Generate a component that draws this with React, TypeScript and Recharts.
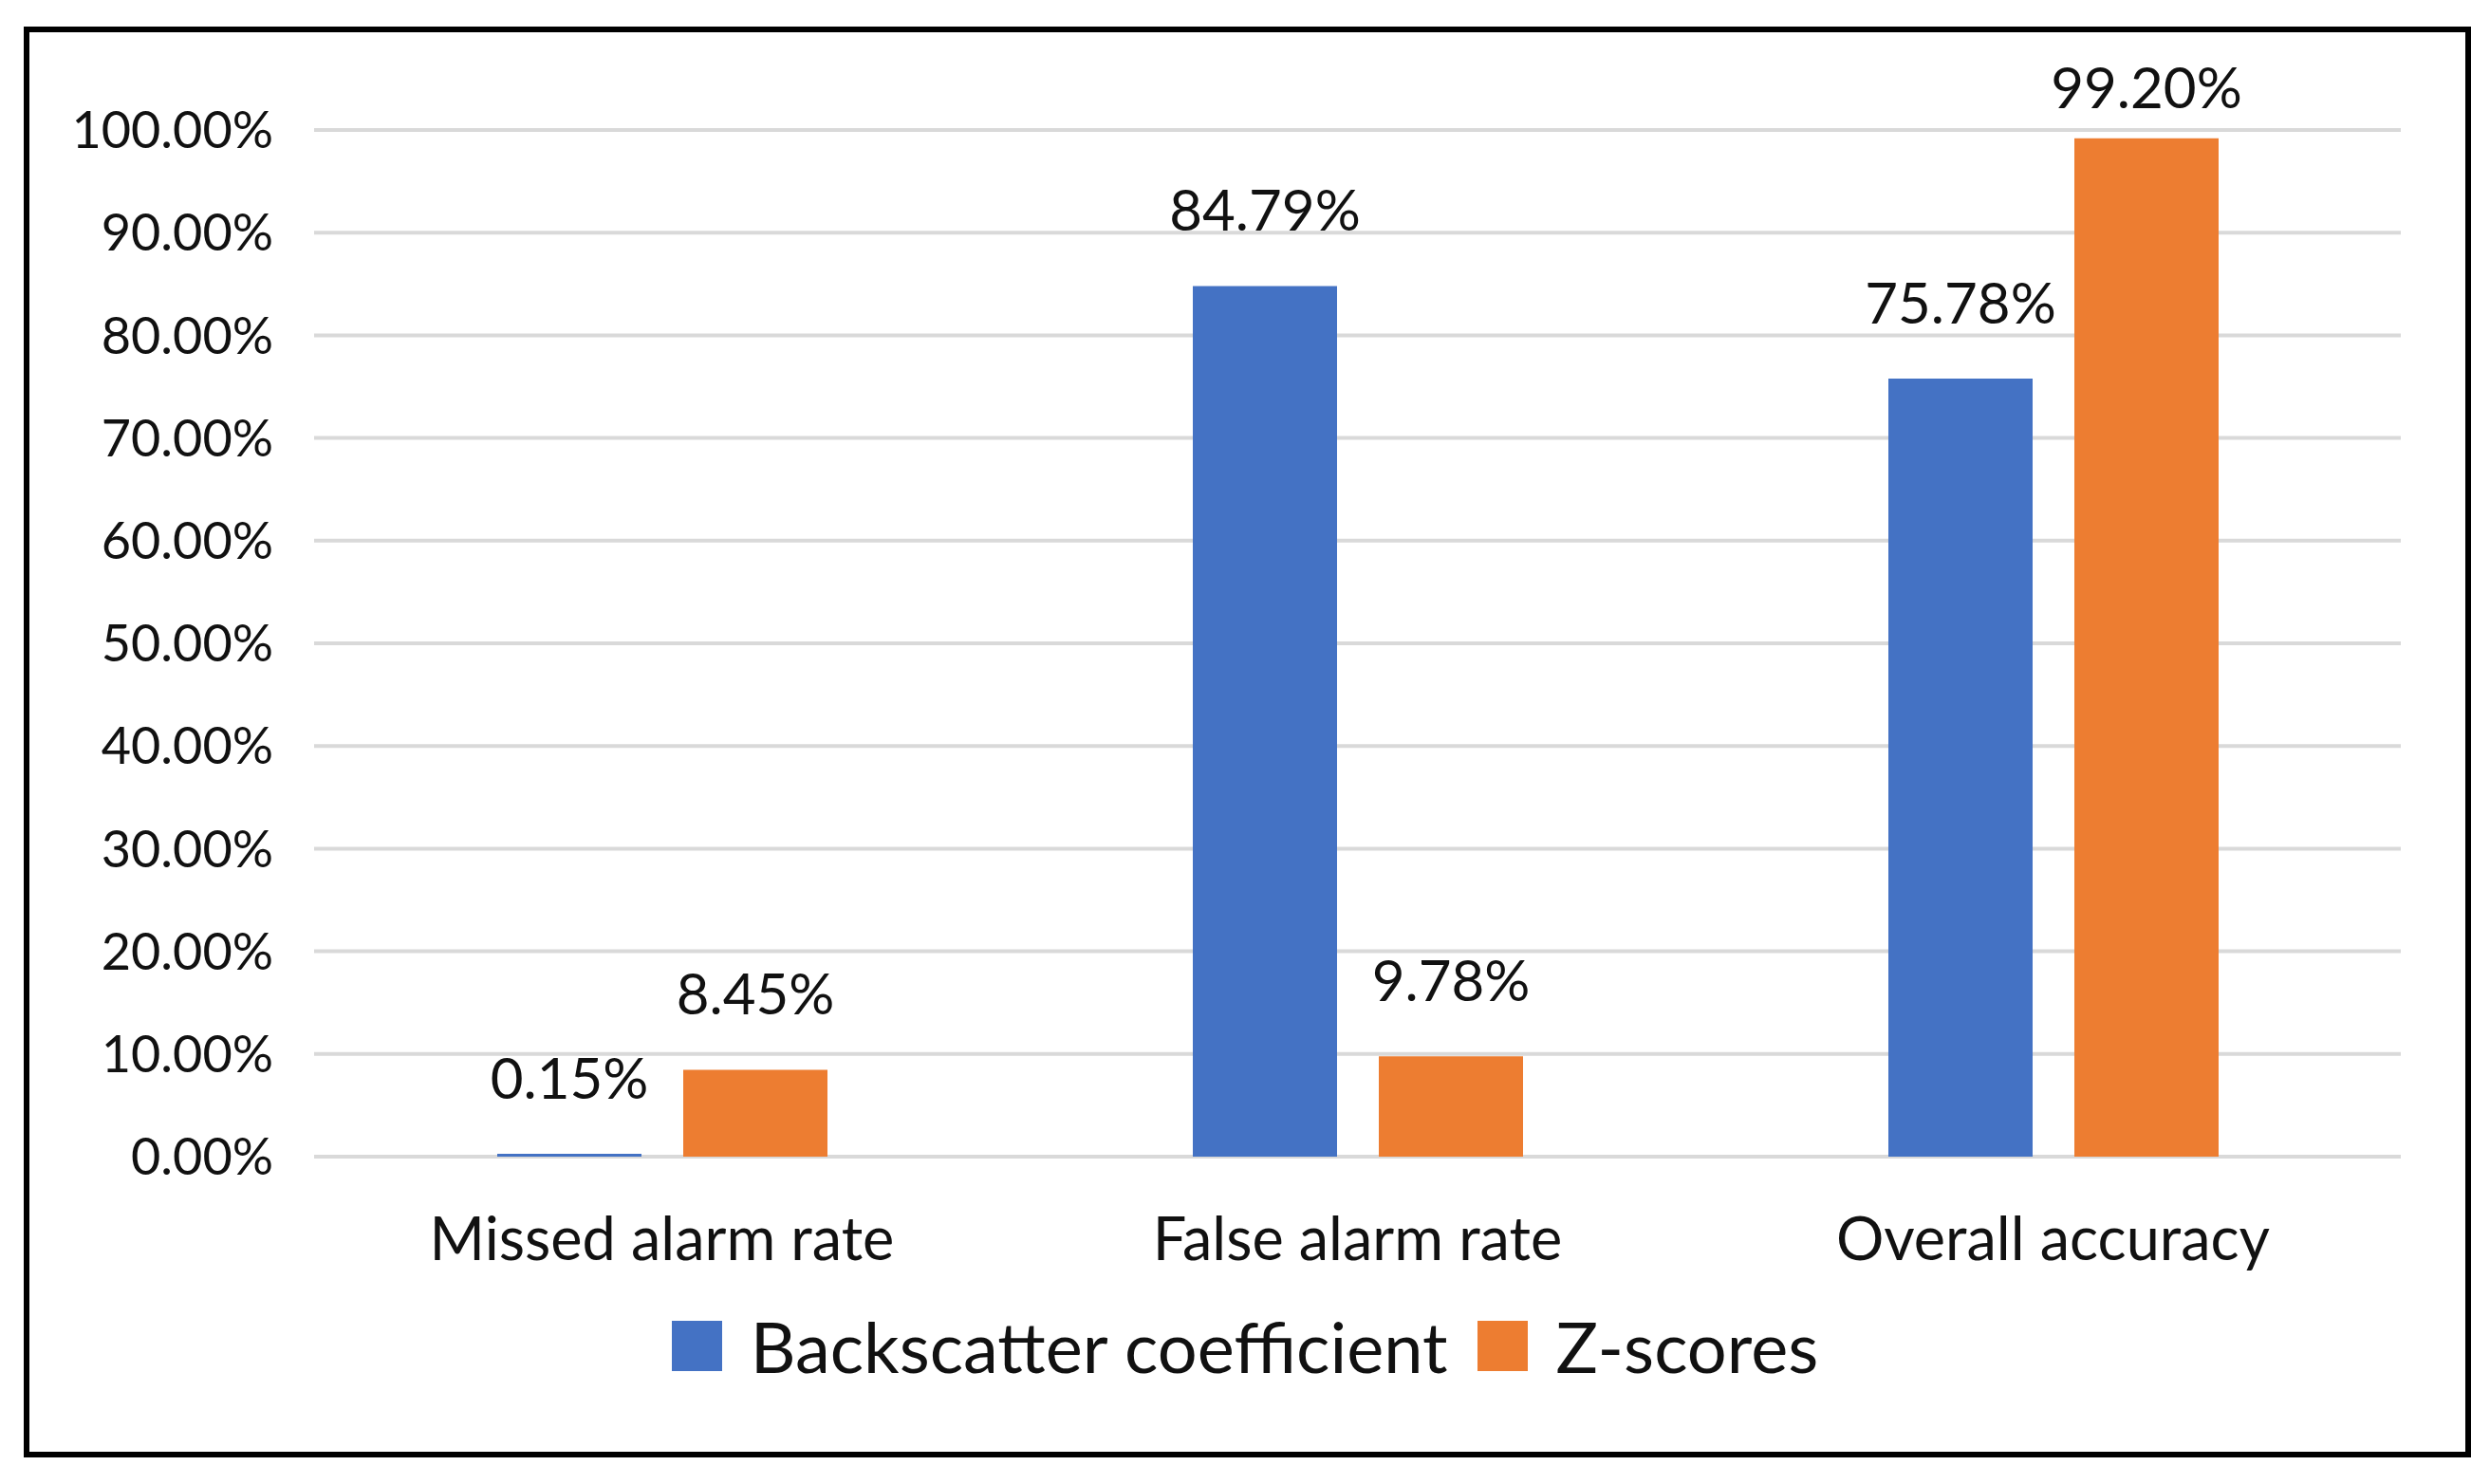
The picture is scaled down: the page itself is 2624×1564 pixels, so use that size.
import { BarChart, Bar, XAxis, YAxis, CartesianGrid, Legend, LabelList } from "recharts";

const categories = ["Missed alarm rate", "False alarm rate", "Overall accuracy"];
const backscatter = [0.15, 84.79, 75.78];
const zScores = [8.45, 9.78, 99.2];
const yTicks = [0, 10, 20, 30, 40, 50, 60, 70, 80, 90, 100];

const series = [
  { key: "backscatter", name: "Backscatter coefficient", color: "#4472C4" },
  { key: "zScores", name: "Z-scores", color: "#ED7D31" },
];

const data = categories.map((name, i) => ({
  name,
  backscatter: backscatter[i],
  zScores: zScores[i],
}));

const FONT = "Lato, 'Open Sans', sans-serif";
const W = 2624;
const H = 1564;

// Excel-style value label: sits well above the bar, but never past the top of the frame.
function ValueLabel(props: any) {
  const { x, y, width, value } = props;
  const cy = Math.max(y - 80, 92);
  return (
    <text
      x={x + width / 2}
      y={cy}
      dy="0.36em"
      textAnchor="middle"
      fontSize={60}
      fontFamily={FONT}
      fill="#111"
    >
      {`${Number(value).toFixed(2)}%`}
    </text>
  );
}

function LegendRow() {
  return (
    <div
      style={{
        display: "flex",
        justifyContent: "center",
        alignItems: "center",
        fontFamily: FONT,
        fontSize: 74,
        color: "#111",
      }}
    >
      {series.map((s, i) => (
        <div key={s.key} style={{ display: "flex", alignItems: "center", marginLeft: i === 0 ? 0 : 31 }}>
          <span style={{ width: 53, height: 53, background: s.color, display: "inline-block", marginRight: 30 }} />
          <span>{s.name}</span>
        </div>
      ))}
    </div>
  );
}

export default function App() {
  return (
    <div style={{ position: "absolute", left: 0, top: 0, width: W, height: H, background: "#fff" }}>
      <div
        style={{
          position: "absolute",
          left: 25,
          top: 28,
          width: 2604 - 25,
          height: 1536 - 28,
          border: "6px solid #000",
          boxSizing: "border-box",
        }}
      />
      <div style={{ position: "absolute", left: 0, top: 0 }}>
        <BarChart
          width={W}
          height={H}
          data={data}
          margin={{ top: 137, right: 94, bottom: 315, left: 31 }}
          barSize={152}
          barGap={44}
        >
          <CartesianGrid vertical={false} stroke="#d9d9d9" strokeWidth={4} />
          <XAxis
            dataKey="name"
            height={30}
            axisLine={false}
            tickLine={false}
            tickSize={0}
            tickMargin={64}
            tick={{ fontSize: 63, fontFamily: FONT, fill: "#111" }}
            interval={0}
          />
          <YAxis
            width={300}
            domain={[0, 100]}
            ticks={yTicks}
            axisLine={false}
            tickLine={false}
            tickSize={0}
            tickMargin={43}
            tickFormatter={(v: number) => `${v.toFixed(2)}%`}
            tick={{ fontSize: 54, fontFamily: FONT, fill: "#111" }}
          />
          <Legend
            verticalAlign="middle"
            align="center"
            wrapperStyle={{ top: 1374, left: 0, width: W }}
            content={() => <LegendRow />}
          />
          {series.map((s) => (
            <Bar key={s.key} dataKey={s.key} name={s.name} fill={s.color} isAnimationActive={false} minPointSize={3}>
              <LabelList dataKey={s.key} content={ValueLabel} />
            </Bar>
          ))}
        </BarChart>
      </div>
    </div>
  );
}
